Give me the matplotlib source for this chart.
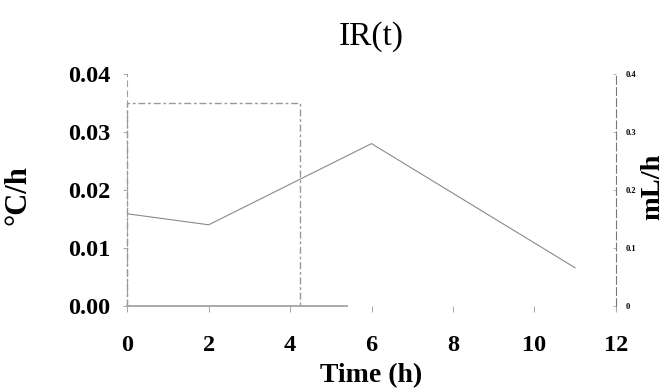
import matplotlib
matplotlib.use("Agg")
import matplotlib.pyplot as plt

# temperature rate IR(t), left axis (°C/h)
time_h = [0, 2, 6, 11]
ir_rate = [0.0159, 0.0140, 0.0280, 0.0066]

# infusion step, right axis (mL/h)
step_t = [0, 0, 4.24, 4.24]
step_v = [0, 0.35, 0.35, 0]

# zero-rate segment along the bottom
zero_t = [0, 5.4]
zero_v = [0, 0]

x_ticks = [0, 2, 4, 6, 8, 10, 12]
left_ticks = [0.00, 0.01, 0.02, 0.03, 0.04]
right_ticks = [0, 0.1, 0.2, 0.3, 0.4]
right_labels = ["0", "0.1", "0.2", "0.3", "0.4"]

serif = "Liberation Serif"

fig = plt.figure(figsize=(6.65, 3.92), dpi=100)
ax = fig.add_axes([0.1914, 0.2194, 0.7345, 0.5918])
ax2 = ax.twinx()

ax.plot(time_h, ir_rate, color="#8a8a8a", lw=0.8)
ax2.plot(step_t, step_v, color="#999999", lw=1.0,
         linestyle=(0, (5, 2, 2, 2)), clip_on=False)
ax2.plot(zero_t, zero_v, color="#aaaaaa", lw=1.4, clip_on=False)

ax.set_xlim(0, 12)
ax.set_ylim(0, 0.04)
ax2.set_ylim(0, 0.4)

# spines look faded in the original
for a in (ax, ax2):
    a.spines["top"].set_visible(False)
    a.spines["bottom"].set_visible(False)
ax.spines["right"].set_visible(False)
ax2.spines["left"].set_visible(False)
ax.spines["left"].set_color("#a0a0a0")
ax.spines["left"].set_linestyle((0, (5, 4)))
ax.spines["left"].set_linewidth(0.8)
ax2.spines["right"].set_color("#777777")
ax2.spines["right"].set_linestyle((0, (7, 3)))
ax2.spines["right"].set_linewidth(0.8)

ax.set_xticks(x_ticks)
ax.set_xticklabels([str(t) for t in x_ticks], fontfamily=serif,
                   fontweight="bold", fontsize=17.5)
ax.set_yticks(left_ticks)
ax.set_yticklabels(["%.2f" % v for v in left_ticks], fontfamily=serif,
                   fontweight="bold", fontsize=17.5)
ax.tick_params(axis="x", length=4, width=0.6, color="#999999", pad=17)
ax.tick_params(axis="y", length=3, width=0.6, color="#999999", pad=9)

ax2.set_yticks(right_ticks)
ax2.set_yticklabels(right_labels, fontfamily=serif, fontweight="bold",
                    fontsize=6)
ax2.tick_params(axis="y", length=2, width=0.5, color="#999999",
                direction="in", pad=7)

ax.set_xlabel("Time (h)", fontfamily=serif, fontweight="bold", fontsize=20,
              labelpad=5)
ax.set_ylabel("°C/h", fontfamily=serif, fontweight="bold", fontsize=22)
ax.yaxis.set_label_coords(-0.195, 0.48)
ax2.set_ylabel("mL/h", fontfamily=serif, fontweight="bold", fontsize=20.5,
               rotation=90)
ax2.yaxis.set_label_coords(1.051, 0.513)

ax.set_title("IR(t)", fontfamily=serif, fontsize=24, pad=21)

fig.savefig("out.png", dpi=100)
